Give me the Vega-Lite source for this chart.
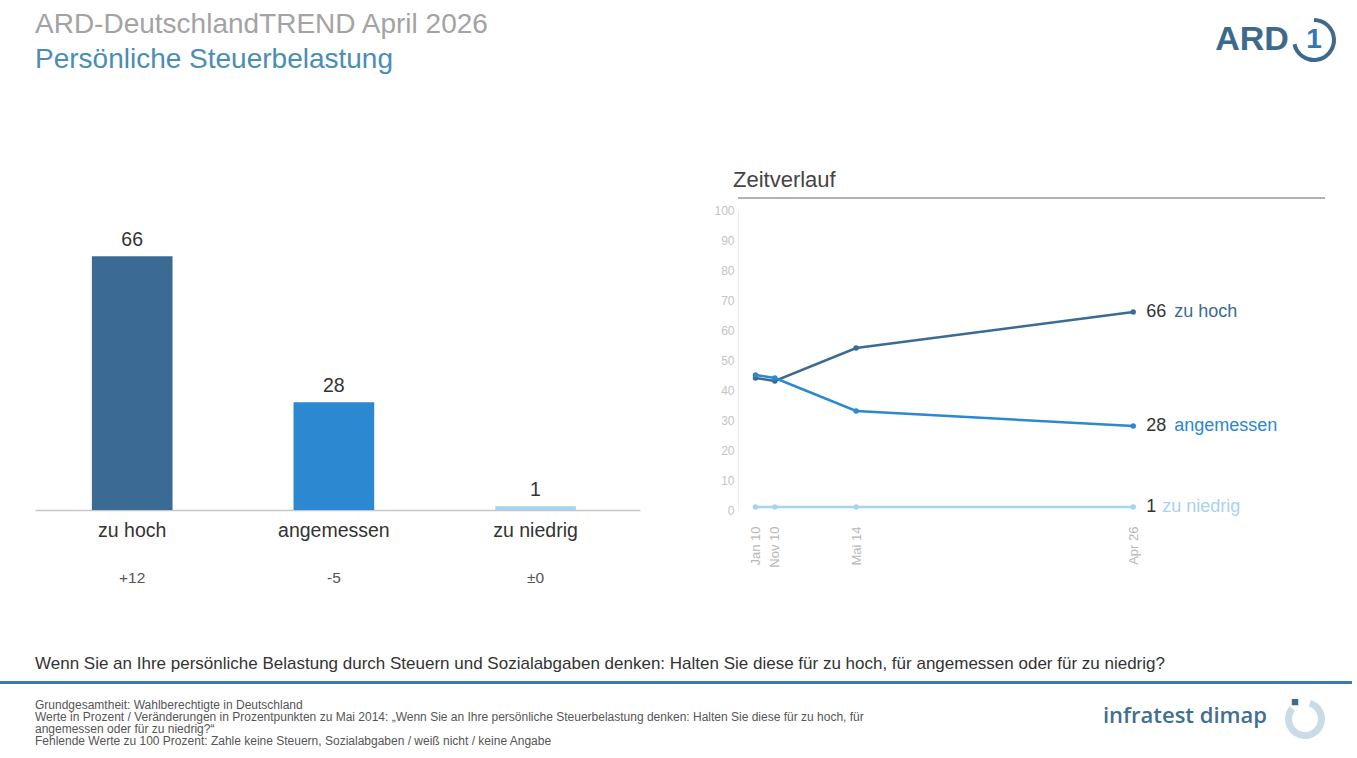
{
  "$schema": "https://vega.github.io/schema/vega-lite/v6.json",
  "background": "white",
  "padding": 0,
  "bounds": "full",
  "spacing": 0,
  "config": {
    "font": "Liberation Sans",
    "view": {"stroke": null},
    "title": {"fontWeight": "normal", "subtitleFontWeight": "normal"},
    "axisY": {"labelOverlap": false}
  },
  "vconcat": [
    {
      "bounds": "flush",
      "spacing": 0,
      "hconcat": [
        {
          "width": 1212,
          "height": 169,
          "data": {"values": []},
          "mark": "point",
          "title": {
            "text": "ARD-DeutschlandTREND April 2026",
            "subtitle": "Persönliche Steuerbelastung",
            "anchor": "start",
            "frame": "group",
            "dx": 35,
            "offset": -74,
            "fontSize": 28,
            "color": "#a3a3a3",
            "subtitleFontSize": 28,
            "subtitleColor": "#4a8db5",
            "subtitlePadding": 7
          }
        },
        {
          "width": 80,
          "height": 80,
          "data": {"values": [{"logo": "ARD"}]},
          "mark": {"type": "text", "fontSize": 34, "fontWeight": "bold", "color": "#3d6a8c", "baseline": "middle"},
          "encoding": {"text": {"field": "logo"}}
        },
        {
          "width": 44,
          "height": 80,
          "data": {"values": [{"logo": "1"}]},
          "layer": [
            {
              "mark": {"type": "arc", "innerRadius": 18, "outerRadius": 22, "theta": 0, "theta2": 4.5, "color": "#3d6a8c"},
              "encoding": {}
            },
            {
              "mark": {"type": "text", "fontSize": 28, "fontWeight": "bold", "color": "#2f78b6", "baseline": "middle"},
              "encoding": {"text": {"field": "logo"}}
            }
          ]
        }
      ]
    },
    {
      "bounds": "flush",
      "spacing": 0,
      "hconcat": [
        {"width": 35, "height": 445, "data": {"values": []}, "mark": "point"},
        {
          "width": 605,
          "height": 300,
          "data": {
            "values": [
              {"antwort": "zu hoch", "wert": 66, "veraenderung": "+12"},
              {"antwort": "angemessen", "wert": 28, "veraenderung": "-5"},
              {"antwort": "zu niedrig", "wert": 1, "veraenderung": "±0"}
            ]
          },
          "encoding": {
            "x": {
              "field": "antwort",
              "type": "nominal",
              "sort": ["zu hoch", "angemessen", "zu niedrig"],
              "scale": {"paddingInner": 0.6, "paddingOuter": 0.3, "align": 0.47},
              "axis": {
                "title": null,
                "labelAngle": 0,
                "labelFontSize": 19.5,
                "labelColor": "#333333",
                "labelPadding": 11,
                "ticks": false,
                "domainColor": "#c6c6c6",
                "domainWidth": 1.5
              }
            }
          },
          "layer": [
            {
              "mark": {"type": "bar"},
              "encoding": {
                "y": {"field": "wert", "type": "quantitative", "scale": {"domain": [0, 78], "nice": false}, "axis": null},
                "color": {
                  "field": "antwort",
                  "type": "nominal",
                  "scale": {"domain": ["zu hoch", "angemessen", "zu niedrig"], "range": ["#3b6b95", "#2b88d1", "#a7d3ef"]},
                  "legend": null
                }
              }
            },
            {
              "mark": {"type": "text", "fontSize": 19.5, "color": "#333333", "baseline": "alphabetic", "dy": -10},
              "encoding": {
                "y": {"field": "wert", "type": "quantitative"},
                "text": {"field": "wert", "type": "quantitative"}
              }
            },
            {
              "mark": {"type": "text", "fontSize": 15.5, "color": "#555555", "baseline": "middle", "dy": 68},
              "encoding": {
                "y": {"datum": 0},
                "text": {"field": "veraenderung"}
              }
            }
          ]
        },
        {"width": 98, "height": 10, "data": {"values": []}, "mark": "point"},
        {
          "width": 587,
          "height": 300,
          "title": {
            "text": "Zeitverlauf",
            "anchor": "start",
            "frame": "group",
            "dx": -5,
            "offset": 5,
            "fontSize": 22,
            "color": "#444444"
          },
          "data": {
            "values": [
              {"zeit": "2010-01-01", "antwort": "zu hoch", "wert": 44},
              {"zeit": "2010-11-01", "antwort": "zu hoch", "wert": 43},
              {"zeit": "2014-05-01", "antwort": "zu hoch", "wert": 54},
              {"zeit": "2026-04-01", "antwort": "zu hoch", "wert": 66},
              {"zeit": "2010-01-01", "antwort": "angemessen", "wert": 45},
              {"zeit": "2010-11-01", "antwort": "angemessen", "wert": 44},
              {"zeit": "2014-05-01", "antwort": "angemessen", "wert": 33},
              {"zeit": "2026-04-01", "antwort": "angemessen", "wert": 28},
              {"zeit": "2010-01-01", "antwort": "zu niedrig", "wert": 1},
              {"zeit": "2010-11-01", "antwort": "zu niedrig", "wert": 1},
              {"zeit": "2014-05-01", "antwort": "zu niedrig", "wert": 1},
              {"zeit": "2026-04-01", "antwort": "zu niedrig", "wert": 1}
            ]
          },
          "layer": [
            {
              "mark": {"type": "line", "strokeWidth": 2.5},
              "encoding": {
                "x": {
                  "field": "zeit",
                  "type": "temporal",
                  "scale": {"domain": [{"year": 2009, "month": 4, "date": 1}, {"year": 2034, "month": 7, "date": 1}]},
                  "axis": {
                    "title": null,
                    "values": [
                      {"year": 2010, "month": 1, "date": 1},
                      {"year": 2010, "month": 11, "date": 1},
                      {"year": 2014, "month": 5, "date": 1},
                      {"year": 2026, "month": 4, "date": 1}
                    ],
                    "labelExpr": "replace(timeFormat(datum.value, '%b %y'), 'May', 'Mai')",
                    "labelAngle": 270,
                    "labelFontSize": 13,
                    "labelColor": "#b8b8b8",
                    "labelPadding": 16,
                    "labelOverlap": false,
                    "domain": false,
                    "ticks": false,
                    "grid": false
                  }
                },
                "y": {
                  "field": "wert",
                  "type": "quantitative",
                  "scale": {"domain": [0, 100], "nice": false},
                  "axis": {
                    "title": null,
                    "tickCount": 10,
                    "labelFontSize": 12,
                    "labelColor": "#c4c4c4",
                    "labelOverlap": false,
                    "labelSeparation": 0,
                    "labelFlush": false,
                    "domainColor": "#ececec",
                    "ticks": false,
                    "grid": false,
                    "labelPadding": 4
                  }
                },
                "color": {
                  "field": "antwort",
                  "type": "nominal",
                  "scale": {"domain": ["zu hoch", "angemessen", "zu niedrig"], "range": ["#3c6e96", "#4a9fcc", "#b3d8ef"]},
                  "legend": null
                }
              }
            },
            {
              "mark": {"type": "point", "filled": true, "size": 30, "opacity": 1},
              "encoding": {
                "x": {"field": "zeit", "type": "temporal"},
                "y": {"field": "wert", "type": "quantitative"},
                "color": {"field": "antwort", "type": "nominal", "legend": null}
              }
            },
            {
              "transform": [{"filter": "year(datum.zeit) == 2026"}],
              "mark": {"type": "text", "align": "left", "baseline": "middle", "dx": 13, "fontSize": 18, "color": "#333333"},
              "encoding": {
                "x": {"field": "zeit", "type": "temporal"},
                "y": {"field": "wert", "type": "quantitative"},
                "text": {"field": "wert", "type": "quantitative"}
              }
            },
            {
              "transform": [{"filter": "year(datum.zeit) == 2026 && datum.wert >= 10"}],
              "mark": {"type": "text", "align": "left", "baseline": "middle", "dx": 41, "fontSize": 18},
              "encoding": {
                "x": {"field": "zeit", "type": "temporal"},
                "y": {"field": "wert", "type": "quantitative"},
                "text": {"field": "antwort"},
                "color": {"field": "antwort", "type": "nominal", "legend": null}
              }
            },
            {
              "transform": [{"filter": "year(datum.zeit) == 2026 && datum.wert < 10"}],
              "mark": {"type": "text", "align": "left", "baseline": "middle", "dx": 29, "fontSize": 18},
              "encoding": {
                "x": {"field": "zeit", "type": "temporal"},
                "y": {"field": "wert", "type": "quantitative"},
                "text": {"field": "antwort"},
                "color": {"field": "antwort", "type": "nominal", "legend": null}
              }
            },
            {
              "data": {"values": [{}]},
              "mark": {"type": "rule", "color": "#9a9a9a", "strokeWidth": 1.5},
              "encoding": {
                "y": {"datum": 104, "type": "quantitative"}
              }
            }
          ]
        }
      ]
    },
    {
      "width": 1352,
      "height": 3,
      "data": {"values": [{}]},
      "mark": {"type": "rect", "color": "#3b7ba6"},
      "encoding": {},
      "title": {
        "text": "Wenn Sie an Ihre persönliche Belastung durch Steuern und Sozialabgaben denken: Halten Sie diese für zu hoch, für angemessen oder für zu niedrig?",
        "anchor": "start",
        "frame": "group",
        "dx": 35,
        "offset": 8,
        "fontSize": 17,
        "color": "#333333"
      }
    },
    {
      "bounds": "flush",
      "spacing": 0,
      "hconcat": [
        {
          "width": 1100,
          "height": 0,
          "data": {"values": []},
          "mark": "point",
          "title": {
            "text": [
              "Grundgesamtheit: Wahlberechtigte in Deutschland",
              "Werte in Prozent / Veränderungen in Prozentpunkten zu Mai 2014: „Wenn Sie an Ihre persönliche Steuerbelastung denken: Halten Sie diese für zu hoch, für",
              "angemessen oder für zu niedrig?“",
              "Fehlende Werte zu 100 Prozent: Zahle keine Steuern, Sozialabgaben / weiß nicht / keine Angabe"
            ],
            "orient": "bottom",
            "anchor": "start",
            "frame": "group",
            "dx": 35,
            "offset": -4,
            "fontSize": 12,
            "lineHeight": 12,
            "color": "#555555"
          }
        },
        {
          "width": 170,
          "height": 64,
          "data": {"values": [{"logo": "infratest dimap"}]},
          "mark": {"type": "text", "font": "Open Sans", "fontWeight": 600, "fontSize": 22, "color": "#3f6f92", "baseline": "middle"},
          "encoding": {"text": {"field": "logo"}}
        },
        {
          "width": 70,
          "height": 70,
          "data": {"values": [{"logo": "■"}]},
          "layer": [
            {
              "mark": {"type": "arc", "innerRadius": 13, "outerRadius": 20, "theta": 0.3, "theta2": 5.4, "color": "#c8dbe6"},
              "encoding": {}
            },
            {
              "mark": {"type": "text", "fontSize": 13, "color": "#3a6b90", "dx": -10, "dy": -17, "baseline": "middle"},
              "encoding": {"text": {"field": "logo"}}
            }
          ]
        }
      ]
    }
  ]
}
